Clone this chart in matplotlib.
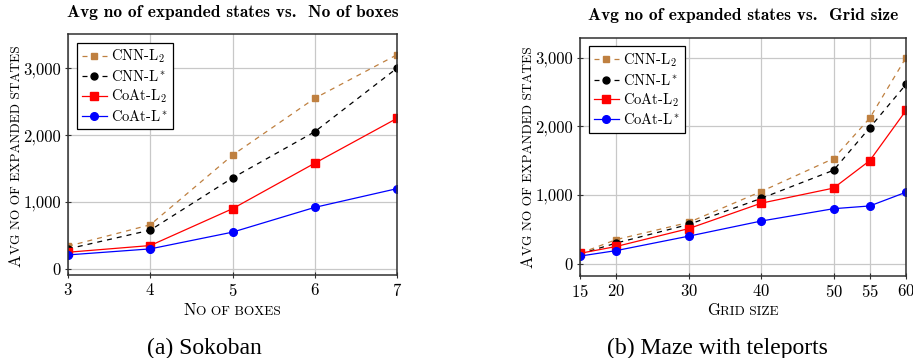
import matplotlib
matplotlib.use("Agg")
import matplotlib.pyplot as plt
from matplotlib.ticker import FuncFormatter

plt.rcParams['font.family'] = 'cmr10'
plt.rcParams['mathtext.fontset'] = 'cm'
plt.rcParams['axes.formatter.use_mathtext'] = True

# Sokoban
boxes = [3, 4, 5, 6, 7]
sok_cnn_l2 = [340, 660, 1700, 2550, 3200]
sok_cnn_ls = [300, 580, 1360, 2050, 3000]
sok_coat_l2 = [250, 350, 900, 1580, 2250]
sok_coat_ls = [210, 300, 550, 920, 1200]

# Maze with teleports
grid = [15, 20, 30, 40, 50, 55, 60]
maze_cnn_l2 = [150, 350, 600, 1050, 1530, 2120, 3000]
maze_cnn_ls = [140, 300, 570, 950, 1360, 1980, 2610]
maze_coat_l2 = [150, 250, 510, 880, 1100, 1500, 2230]
maze_coat_ls = [110, 190, 400, 620, 800, 840, 1040]

labels = [r'CNN-L$_2$', r'CNN-L$^*$', r'CoAt-L$_2$', r'CoAt-L$^*$']
styles = [
    dict(color='#bf8040', ls=(0, (4, 4)), marker='s', ms=5),
    dict(color='black', ls=(0, (4, 4)), marker='o', ms=5),
    dict(color='red', ls='-', marker='s', ms=5.5),
    dict(color='blue', ls='-', marker='o', ms=5.5),
]

fig = plt.figure(figsize=(9.13, 3.58), dpi=100)
W, H = 913, 358


def ax_rect(x0, x1, top, bottom):
    return [x0 / W, 1 - bottom / H, (x1 - x0) / W, (bottom - top) / H]


def smallcaps(x, y, text, big=12, small=9.6, vertical=False):
    # x, y: centre along the text and baseline, in pixels from top-left
    runs = []
    for ch in text:
        kind = ch.isupper()
        if runs and runs[-1][0] == kind:
            runs[-1][1] += ch
        else:
            runs.append([kind, ch])
    r = fig.canvas.get_renderer()
    objs = []
    for up, s in runs:
        t = fig.text(0, 0, s if up else s.upper(), fontsize=big if up else small,
                     rotation=90 if vertical else 0, rotation_mode='anchor',
                     ha='left', va='baseline')
        objs.append(t)
    lens = []
    for t in objs:
        bb = t.get_window_extent(r)
        lens.append(bb.height if vertical else bb.width)
    total = sum(lens)
    if vertical:
        pos = (H - y) - total / 2
        for t, l in zip(objs, lens):
            t.set_position((x / W, pos / H))
            pos += l
    else:
        pos = x - total / 2
        for t, l in zip(objs, lens):
            t.set_position((pos / W, 1 - y / H))
            pos += l


def panel(rect, xs, series, xlim, ylim, title, title_y, xlabel, cap, cap_x, ylab_x, ylab_y):
    ax = fig.add_axes(rect)
    for ys, lab, st in zip(series, labels, styles):
        ax.plot(xs, ys, lw=0.9, label=lab, **st)
    ax.set_xlim(*xlim)
    ax.set_ylim(*ylim)
    ax.set_xticks(xs)
    ax.set_yticks([0, 1000, 2000, 3000])
    ax.yaxis.set_major_formatter(FuncFormatter(lambda v, p: '{:,.0f}'.format(v)))
    ax.grid(True, color='#c8c8c8', lw=0.9)
    ax.set_axisbelow(True)
    ax.tick_params(direction='inout', length=4, width=0.8, color='#303030', labelsize=12, pad=3)
    for sp in ax.spines.values():
        sp.set_color('#303030')
        sp.set_linewidth(1.1)
    leg = ax.legend(loc='upper left', fontsize=10.5, handlelength=1.7, labelspacing=0.25,
                    borderpad=0.35, handletextpad=0.3, fancybox=False, framealpha=1,
                    edgecolor='black', borderaxespad=0.6)
    leg.get_frame().set_linewidth(0.9)
    cx = rect[0] + rect[2] / 2
    fig.text(cx, title_y, title, fontfamily='cmb10', fontsize=12.5, ha='center', va='center')
    smallcaps(cx * W, 315, xlabel)
    smallcaps(ylab_x, ylab_y, 'Avg no of expanded states', vertical=True)
    fig.text(cap_x / W, 0.012, cap, fontfamily='Liberation Serif', fontsize=17,
             ha='center', va='baseline')
    return ax


panel(ax_rect(68, 397, 34, 275), boxes, [sok_cnn_l2, sok_cnn_ls, sok_coat_l2, sok_coat_ls],
      (3, 7), (-90, 3510), 'Avg no of expanded states vs.  No of boxes', 0.966,
      'No of boxes', '(a) Sokoban', 204, 20, 156)

panel(ax_rect(580, 906, 37.7, 276), grid, [maze_cnn_l2, maze_cnn_ls, maze_coat_l2, maze_coat_ls],
      (15, 60), (-180, 3290), 'Avg no of expanded states vs.  Grid size', 0.958,
      'Grid size', '(b) Maze with teleports', 717, 532, 157)

fig.savefig('out.png', dpi=100)
